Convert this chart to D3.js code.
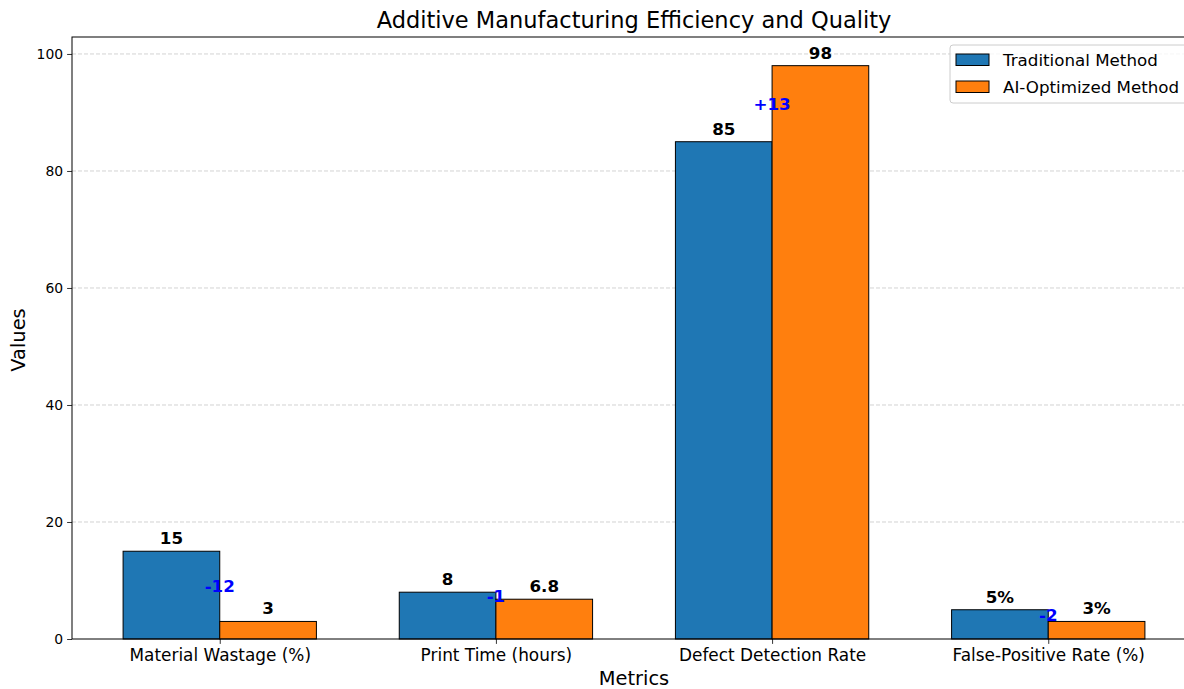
<!DOCTYPE html>
<html><head><meta charset="utf-8">
<script src="https://cdn.jsdelivr.net/npm/d3@7"></script>
<style>body{margin:0;background:#fff;} svg{display:block;font-family:"DejaVu Sans",sans-serif;}</style>
</head><body>
<svg id="chart" width="1184" height="689"></svg>
<script>
const categories = ["Material Wastage (%)", "Print Time (hours)", "Defect Detection Rate", "False-Positive Rate (%)"];
const traditional = [15, 8, 85, 5];
const aiOptimized = [3, 6.8, 98, 3];
const traditionalLabels = ["15", "8", "85", "5%"];
const aiLabels = ["3", "6.8", "98", "3%"];
const diffLabels = ["-12", "-1", "+13", "-2"];
const seriesNames = ["Traditional Method", "AI-Optimized Method"];
const yTicks = [0, 20, 40, 60, 80, 100];
const colors = ["#1f77b4", "#ff7f0e"];

(function () {
const svg = d3.select("#chart");
const mLeft = 72, mRight = 1196, mTop = 37, mBottom = 639;
const barW = 0.35;
const x = d3.scaleLinear().domain([-0.535, 3.535]).range([mLeft, mRight]);
const y = d3.scaleLinear().domain([0, 102.9]).range([mBottom, mTop]);

// grid
svg.append("g").selectAll("line").data(yTicks.filter(d => d > 0)).join("line")
  .attr("x1", mLeft).attr("x2", mRight).attr("y1", d => y(d)).attr("y2", d => y(d))
  .attr("stroke", "#b0b0b0").attr("stroke-opacity", 0.7).attr("stroke-width", 0.8)
  .attr("stroke-dasharray", "4,2");

const idx = d3.range(categories.length);
// bars
svg.append("g").selectAll("rect").data(idx).join("rect")
  .attr("x", i => x(i - barW)).attr("width", i => x(i) - x(i - barW))
  .attr("y", i => y(traditional[i])).attr("height", i => y(0) - y(traditional[i]))
  .attr("fill", colors[0]).attr("stroke", "#000").attr("stroke-width", 1);
svg.append("g").selectAll("rect").data(idx).join("rect")
  .attr("x", i => x(i)).attr("width", i => x(i + barW) - x(i))
  .attr("y", i => y(aiOptimized[i])).attr("height", i => y(0) - y(aiOptimized[i]))
  .attr("fill", colors[1]).attr("stroke", "#000").attr("stroke-width", 1);

// value labels
svg.append("g").selectAll("text").data(idx).join("text")
  .attr("x", i => x(i - barW / 2)).attr("y", i => y(traditional[i]) - 7)
  .attr("text-anchor", "middle").attr("font-size", "16.7px").attr("font-weight", "bold")
  .text(i => traditionalLabels[i]);
svg.append("g").selectAll("text").data(idx).join("text")
  .attr("x", i => x(i + barW / 2)).attr("y", i => y(aiOptimized[i]) - 7)
  .attr("text-anchor", "middle").attr("font-size", "16.7px").attr("font-weight", "bold")
  .text(i => aiLabels[i]);
// diff labels
svg.append("g").selectAll("text").data(idx).join("text")
  .attr("x", i => x(i)).attr("y", i => y((traditional[i] + aiOptimized[i]) / 2))
  .attr("dy", "0.35em")
  .attr("text-anchor", "middle").attr("font-size", "16.7px").attr("font-weight", "bold")
  .attr("fill", "#0000ff")
  .text(i => diffLabels[i]);

// axes
const yAxis = svg.append("g").attr("transform", `translate(${mLeft},0)`)
  .call(d3.axisLeft(y).tickValues(yTicks).tickSize(4.9).tickPadding(4));
yAxis.select(".domain").remove();
yAxis.selectAll("text").attr("font-size", "13.9px").attr("fill", "#000").attr("font-family", "DejaVu Sans");
yAxis.selectAll("line").attr("stroke", "#000").attr("stroke-width", 0.8);

const xAxis = svg.append("g").attr("transform", `translate(0,${mBottom})`)
  .call(d3.axisBottom(x).tickValues(idx).tickFormat(i => categories[i]).tickSize(4.9).tickPadding(5));
xAxis.select(".domain").remove();
xAxis.selectAll("text").attr("font-size", "16.9px").attr("fill", "#000").attr("font-family", "DejaVu Sans");
xAxis.selectAll("line").attr("stroke", "#000").attr("stroke-width", 0.8);

// spines
svg.append("rect").attr("x", mLeft).attr("y", mTop).attr("width", mRight - mLeft).attr("height", mBottom - mTop)
  .attr("fill", "none").attr("stroke", "#000").attr("stroke-width", 1);

// title & axis labels
svg.append("text").attr("x", (mLeft + mRight) / 2).attr("y", 28).attr("text-anchor", "middle")
  .attr("font-size", "22.5px").text("Additive Manufacturing Efficiency and Quality");
svg.append("text").attr("x", (mLeft + mRight) / 2).attr("y", 685).attr("text-anchor", "middle")
  .attr("font-size", "19.4px").text("Metrics");
svg.append("text").attr("transform", "translate(25,340) rotate(-90)").attr("text-anchor", "middle")
  .attr("font-size", "19.4px").text("Values");

// legend
const lg = svg.append("g").attr("transform", "translate(950,45)");
lg.append("rect").attr("x", 0).attr("y", 0).attr("width", 240).attr("height", 58).attr("rx", 3)
  .attr("fill", "#fff").attr("fill-opacity", 0.8).attr("stroke", "#ccc");
seriesNames.forEach((n, k) => {
  lg.append("rect").attr("x", 6).attr("y", 9 + k * 27).attr("width", 33).attr("height", 11.5)
    .attr("fill", colors[k]).attr("stroke", "#000").attr("stroke-width", 1);
  lg.append("text").attr("x", 53).attr("y", 15 + k * 27).attr("dy", "0.35em")
    .attr("font-size", "16.7px").text(n);
});
})();
</script>
</body></html>
